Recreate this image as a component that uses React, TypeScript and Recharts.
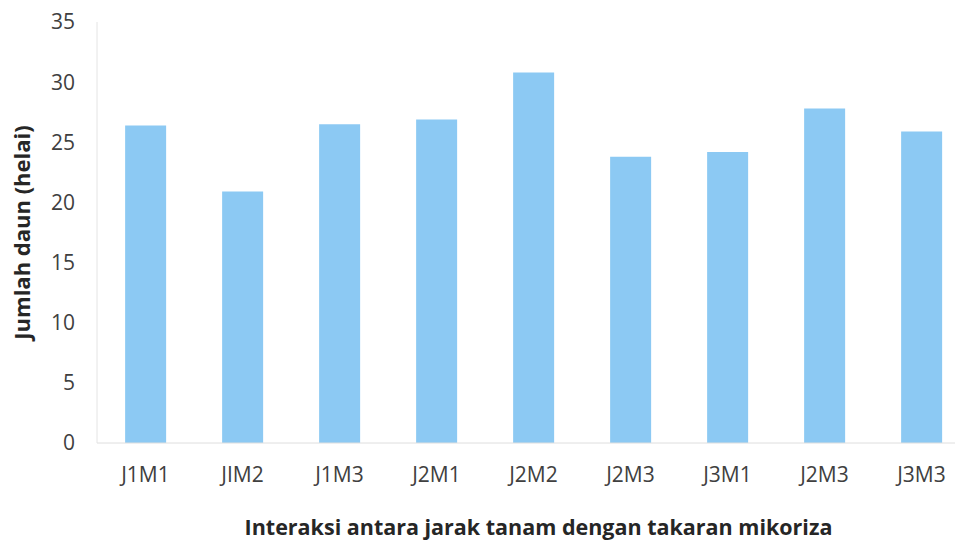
import React from "react";
import { BarChart, Bar, XAxis, YAxis, Label } from "recharts";

const categories = ["J1M1", "JIM2", "J1M3", "J2M1", "J2M2", "J2M3", "J3M1", "J2M3", "J3M3"];
const jumlahDaun = [26.4, 20.9, 26.5, 26.9, 30.8, 23.8, 24.2, 27.8, 25.9];
const yTicks = [0, 5, 10, 15, 20, 25, 30, 35];

const data = categories.map((name, i) => ({ name, value: jumlahDaun[i], key: i }));

const font = "'Open Sans', sans-serif";

export default function App() {
  return (
    <div style={{ position: "absolute", left: 0, top: 0, background: "#fff", overflow: "hidden", width: 955, height: 541 }}>
      <BarChart
        width={970}
        height={541}
        data={data}
        margin={{ top: 22, right: 0, left: 0, bottom: 0 }}
        barCategoryGap="29%"
      >
        <XAxis
          dataKey="key"
          tickFormatter={(i) => categories[i]}
          height={98}
          stroke="#dedede"
          tickLine={false}
          tickMargin={18}
          tick={{ fill: "#404040", fontSize: 21, fontFamily: font }}
        >
          <Label
            value="Interaksi antara jarak tanam dengan takaran mikoriza"
            position="insideBottom"
            offset={6}
            dx={5}
            style={{ fill: "#262626", fontSize: 21.5, fontWeight: 700, fontFamily: font }}
          />
        </XAxis>
        <YAxis
          width={97}
          domain={[0, 35]}
          ticks={yTicks}
          stroke="#e4e4e4"
          tickLine={false}
          tickMargin={16}
          tick={{ fill: "#404040", fontSize: 21, fontFamily: font }}
        >
          <Label
            value="Jumlah daun (helai)"
            angle={-90}
            position="insideLeft"
            offset={22}
            style={{ textAnchor: "middle", fill: "#262626", fontSize: 22, fontWeight: 700, fontFamily: font }}
          />
        </YAxis>
        <Bar dataKey="value" fill="#8cc9f3" isAnimationActive={false} />
      </BarChart>
    </div>
  );
}
